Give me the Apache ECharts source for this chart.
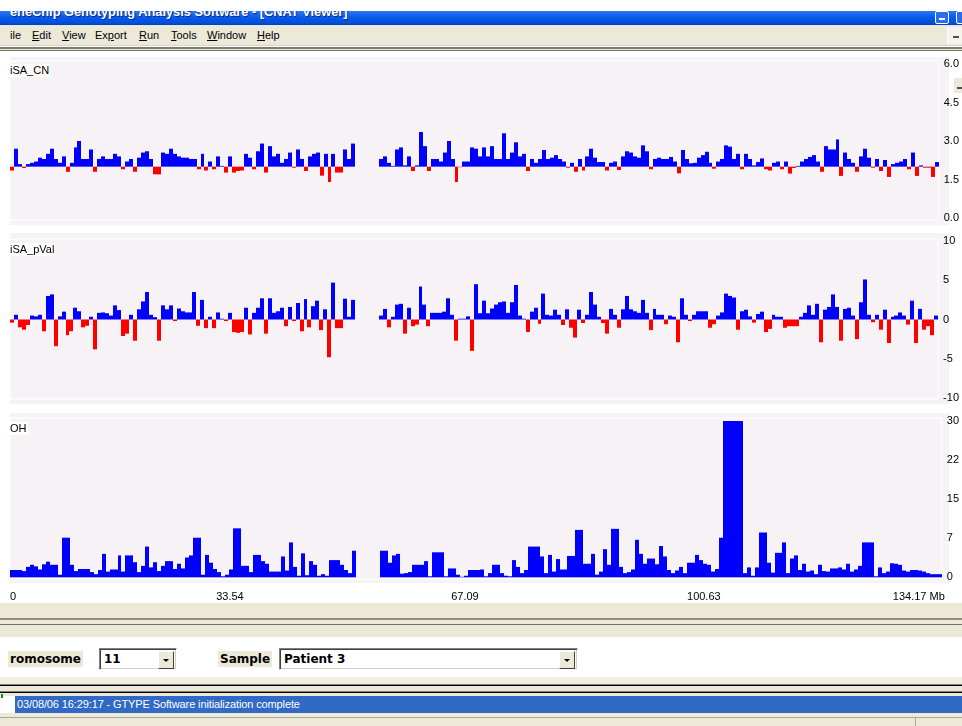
<!DOCTYPE html>
<html><head><meta charset="utf-8">
<script src="https://cdn.jsdelivr.net/npm/echarts@6/dist/echarts.min.js"></script>
<style>
html,body{margin:0;padding:0;width:962px;height:726px;overflow:hidden;background:#fff;font-family:"Liberation Sans",Arial,sans-serif;}
.a{position:absolute;}
#chart{position:absolute;left:0;top:0;width:962px;height:726px;z-index:1;}
.bg{z-index:0;}
.fg{z-index:2;}
.menu{position:absolute;top:29px;font-size:11px;line-height:12px;color:#000;z-index:2;}
.plab{position:absolute;left:10px;background:#fff;font-size:11px;line-height:13px;padding:0 1px 0 0;color:#000;z-index:2;}
.lbl{position:absolute;top:651px;background:#ECE9D8;font-family:"DejaVu Sans",sans-serif;font-weight:bold;font-size:12px;line-height:16px;padding:0 2px;color:#000;z-index:2;}
.combo{position:absolute;top:648px;height:20px;background:#fff;border:1px solid;border-color:#808080 #fff #fff #808080;box-shadow:inset 1px 1px #404040,inset -1px -1px #d4d0c8;z-index:2;}
.combo .t{position:absolute;left:4px;top:2px;font-family:"DejaVu Sans",sans-serif;font-weight:bold;font-size:12px;line-height:16px;color:#000;}
.combo .btn{position:absolute;right:2px;top:2px;width:14px;height:16px;background:#ECE9D8;border:1px solid;border-color:#fff #404040 #404040 #fff;}
.combo .tri{position:absolute;left:4px;top:7px;width:0;height:0;border-left:3px solid transparent;border-right:3px solid transparent;border-top:3px solid #000;}
</style></head><body>

<!-- window chrome -->
<div class="a fg" style="left:0;top:11px;width:962px;height:14px;background:linear-gradient(#2c78f4,#0a5ae8 45%,#0050dc 85%,#003cc0);overflow:hidden;">
  <span class="a" style="left:10px;top:-6px;font-family:'Liberation Sans',Arial,sans-serif;font-weight:bold;font-size:12.8px;line-height:13px;color:#fff;white-space:nowrap;text-shadow:1px 1px #0a2a8a;">eneChip Genotyping Analysis Software - [CNAT Viewer]</span>
  <div class="a" style="left:935px;top:0px;width:12px;height:11px;background:#2a6cf0;border:1px solid #fff;border-radius:2px;"><div class="a" style="left:3px;top:6px;width:6px;height:2px;background:#fff;"></div></div>
  <div class="a" style="left:956px;top:0px;width:12px;height:11px;background:#2a6cf0;border:1px solid #fff;border-radius:2px;"></div>
</div>
<div class="a fg" style="left:0;top:25px;width:962px;height:20px;background:#ECE9D8;"></div>
<span class="menu" style="left:10px;">ile</span>
<span class="menu" style="left:32px;"><u>E</u>dit</span>
<span class="menu" style="left:62px;"><u>V</u>iew</span>
<span class="menu" style="left:95px;">Ex<u>p</u>ort</span>
<span class="menu" style="left:139px;"><u>R</u>un</span>
<span class="menu" style="left:171px;"><u>T</u>ools</span>
<span class="menu" style="left:207px;"><u>W</u>indow</span>
<span class="menu" style="left:257px;"><u>H</u>elp</span>
<div class="a fg" style="left:947px;top:27px;width:15px;height:17px;background:#f4f3ee;border-left:1px solid #fff;"><div class="a" style="left:5px;top:9px;width:6px;height:2px;background:#505050;"></div></div>
<div class="a fg" style="left:0;top:45px;width:962px;height:1px;background:#d8d5c8;"></div>
<div class="a fg" style="left:0;top:47px;width:962px;height:2px;background:#7d7a6e;"></div>
<div class="a fg" style="left:0;top:49px;width:962px;height:1px;background:#ECE9D8;"></div>
<div class="a fg" style="left:0;top:50px;width:962px;height:1px;background:#716F64;"></div>

<!-- panel backgrounds -->
<div class="a bg" style="left:10px;top:57px;width:939px;height:168px;background:#F6F2F6;"></div>
<div class="a bg" style="left:10px;top:233px;width:939px;height:171px;background:#F6F2F6;"></div>
<div class="a bg" style="left:10px;top:413px;width:939px;height:170px;background:#F6F2F6;"></div>

<div class="plab" style="top:64px;">iSA_CN</div>
<div class="plab" style="top:243px;">iSA_pVal</div>
<div class="plab" style="top:422px;">OH</div>
<div class="a fg" style="left:953px;top:77px;width:9px;height:15px;background:#ECE9D8;border-top:1px solid #fff;border-left:1px solid #fff;"><div class="a" style="left:3px;top:9px;width:6px;height:2px;background:#505050;"></div></div>

<!-- bottom chrome -->
<div class="a fg" style="left:0;top:603px;width:962px;height:34px;background:#ECE9D8;"></div>
<div class="a fg" style="left:0;top:618px;width:962px;height:2px;background:#8f8c80;"></div>
<div class="a fg" style="left:0;top:624px;width:962px;height:1px;background:#716F64;"></div>
<div class="a fg" style="left:0;top:677px;width:962px;height:7px;background:#F1EFE2;"></div>
<div class="a fg" style="left:0;top:684px;width:962px;height:1px;background:#808080;"></div>
<div class="a fg" style="left:0;top:685px;width:962px;height:1px;background:#000;"></div>
<div class="a fg" style="left:0;top:686px;width:962px;height:10px;background:#ECE9D8;"></div>
<div class="a fg" style="left:0;top:691px;width:962px;height:1px;background:#808080;"></div>
<div class="a fg" style="left:0;top:692px;width:962px;height:1px;background:#000;"></div>
<div class="a fg" style="left:1px;top:694px;width:2px;height:4px;background:#1a8a1a;"></div>
<div class="a fg" style="left:15px;top:696px;width:947px;height:17px;background:#316AC5;"><span class="a" style="left:2px;top:0;font-size:11px;line-height:16px;letter-spacing:-0.12px;color:#fff;white-space:nowrap;">03/08/06 16:29:17 - GTYPE Software initialization complete</span></div>
<div class="a fg" style="left:0;top:713px;width:962px;height:13px;background:#ECE9D8;"></div>
<div class="a fg" style="left:0;top:717px;width:962px;height:1px;background:#ACA899;"></div>
<div class="a fg" style="left:915px;top:718px;width:1px;height:8px;background:#ACA899;"></div>

<div class="lbl" style="left:8px;">romosome</div>
<div class="combo" style="left:99px;width:76px;"><span class="t">11</span><div class="btn"><div class="tri"></div></div></div>
<div class="lbl" style="left:218px;">Sample</div>
<div class="combo" style="left:279px;width:297px;"><span class="t">Patient 3</span><div class="btn"><div class="tri"></div></div></div>

<div id="chart"></div>
<script>
// ---- data (one value per 0.573 Mb bin along chromosome 11; null = centromere gap) ----
const xTickValues = [0, 33.54, 67.09, 100.63, 134.17];
const xTickLabels = ['0', '33.54', '67.09', '100.63', '134.17 Mb'];
const cnTicks = [0, 1.5, 3, 4.5, 6];
const pvalTicks = [-10, -5, 0, 5, 10];
const lohTicks = [0, 7.5, 15, 22.5, 30];

const cnValues = [
1.85,2.7,2.1,1.95,2.1,2.15,2.2,2.35,2.3,2.5,
2.7,2.3,2.15,2.4,1.8,2.15,2.75,3.0,2.3,2.3,
2.67,1.8,2.3,2.4,2.3,2.3,2.5,2.4,1.9,2.2,
2.3,1.8,2.35,2.55,2.6,2.3,1.7,1.7,2.55,2.5,
2.7,2.5,2.4,2.35,2.35,2.3,2.3,1.9,2.5,1.85,
2.2,1.9,2.4,2.03,1.77,2.4,1.77,1.83,1.85,2.5,
2.35,1.9,2.6,2.9,1.77,2.8,2.4,2.5,2.15,2.3,
2.55,1.96,2.67,2.3,1.83,2.4,2.5,2.55,1.65,2.5,
1.4,2.5,1.77,1.77,2.67,2.3,2.9,null,null,null,
null,null,null,2.3,2.4,2.15,2.03,2.67,2.75,2.05,
2.4,1.83,2.05,3.35,2.8,1.83,2.3,2.3,2.2,2.55,
3.0,2.3,1.4,1.98,2.2,2.2,2.75,2.7,2.4,2.75,
2.4,2.8,2.3,2.3,3.3,2.3,2.55,2.95,2.4,2.5,
1.83,2.3,2.15,2.3,2.65,2.3,2.35,2.45,2.3,2.2,
1.96,2.15,1.8,2.3,1.85,2.4,2.7,2.35,2.18,2.18,
1.85,2.15,2.2,1.87,2.4,2.6,2.55,2.4,2.35,2.83,
2.6,1.9,2.3,2.35,2.3,2.3,2.38,2.2,1.74,2.65,
2.3,2.13,2.15,2.35,2.45,2.58,2.15,1.92,2.2,2.3,
2.83,2.78,2.3,2.5,1.9,2.5,2.3,2.05,2.18,2.32,
1.9,1.85,2.15,2.2,1.9,2.2,1.73,1.95,2.03,2.2,
2.3,2.38,2.45,2.2,1.8,2.8,2.67,2.67,3.06,1.64,
2.55,2.3,2.15,1.8,2.4,2.7,2.35,1.96,2.3,1.83,
2.26,1.6,2.1,2.15,2.2,2.3,1.9,2.55,1.64,2.05,
1.96,1.96,1.6,2.18
];

const pvalValues = [
-0.4,0.6,-1.0,-1.3,-0.7,0.5,0.4,0.6,-1.5,3.0,
3.2,-3.4,0.4,1.0,-2.0,-1.5,1.5,1.05,-1.0,-0.8,
0.35,-3.8,0.85,0.9,0.8,0.5,1.8,1.2,-2.1,-1.8,
0.6,-2.7,1.3,2.3,3.5,0.6,0.3,-2.7,1.8,1.3,
1.8,-0.2,1.4,1.05,0.9,0.9,3.5,-0.8,2.5,-1.1,
0.35,-1.1,0.9,0.1,-0.2,0.85,-1.6,-1.7,-1.6,1.5,
-1.9,0.85,1.5,2.7,-1.8,2.7,0.85,1.05,1.5,-0.85,
1.6,-0.2,2.1,-1.5,2.6,-1.0,1.7,2.4,-1.35,1.3,
-4.8,4.7,-1.1,-1.1,2.65,0.35,2.5,null,null,null,
null,null,null,0.5,1.35,-1.0,0.35,1.9,2.0,-1.8,
1.5,-0.85,-0.65,4.2,1.9,-0.85,0.85,0.85,0.85,1.0,
2.7,0.6,-2.7,0.1,0.1,0.4,-4.0,4.5,0.8,2.4,
0.8,1.4,1.9,2.2,2.3,0.85,2.2,4.4,0.5,0.1,
-1.6,1.0,1.5,-0.55,3.3,0.6,0.5,1.25,0.6,-0.7,
1.3,-1.05,-2.3,1.25,-0.45,0.6,3.5,1.9,0.35,-0.45,
-1.8,1.35,0.6,-1.05,1.3,3.0,1.3,1.05,0.85,2.5,
0.85,-1.35,1.35,0.6,0.6,-0.6,0.5,0.35,-2.9,2.7,
0.6,-0.2,0.6,1.05,1.05,1.05,-1.05,-0.6,0.5,0.9,
3.3,3.0,2.8,-1.3,1.05,1.25,0.4,-0.4,0.7,1.0,
-1.6,-1.2,0.6,0.35,0.35,-1.05,-0.85,-0.85,-0.85,0.35,
0.85,1.8,0.6,2.0,-2.9,1.25,1.6,3.2,1.6,-2.7,
1.35,1.5,0.5,-2.5,2.2,5.1,0.6,-0.35,0.6,-1.3,
1.25,-3.0,0.35,0.5,0.9,0.5,-0.65,2.4,-3.0,1.35,
-1.3,-0.85,-2.0,0.5
];

const lohValues = [
1.4,1.4,1.4,1.2,2.0,2.4,2.1,1.5,2.5,3.0,
2.4,2.4,0.5,7.6,7.6,2.4,1.2,1.6,1.6,1.6,
1.0,0.6,1.4,4.5,1.1,1.5,1.5,4.2,1.1,4.2,
4.2,2.9,1.0,2.2,5.9,1.9,2.9,1.2,2.2,3.1,
3.1,1.6,2.6,1.7,3.8,4.2,7.6,7.6,0.5,4.3,
2.8,1.6,1.0,0.2,0.5,1.5,9.4,9.4,2.2,2.2,
1.0,4.3,4.3,3.1,2.6,1.1,1.1,1.1,4.0,1.3,
6.7,2.0,0.3,4.6,0.4,3.1,2.4,0.3,0.6,0.3,
3.3,3.3,3.3,2.4,1.4,0.8,5.1,null,null,null,
null,null,null,5.1,5.1,2.8,4.2,4.5,0.7,0.8,
1.0,2.4,2.4,2.4,3.1,0.2,4.8,4.8,4.8,0.2,
1.7,1.7,0.5,0.1,0.3,1.4,1.4,1.4,1.5,0.2,
0.8,2.4,2.4,0.8,0.3,0.2,3.3,2.0,0.8,1.4,
5.9,5.9,5.9,4.0,0.8,4.3,1.1,3.5,1.5,1.5,
4.1,4.1,9.1,9.1,2.6,2.6,4.5,0.5,1.1,5.4,
2.4,9.3,9.3,2.0,0.8,1.0,1.5,7.2,4.5,2.6,
3.6,3.6,2.5,6.0,4.0,1.4,0.8,1.3,2.0,0.8,
2.8,2.8,4.3,3.3,2.6,2.4,1.1,1.6,7.6,30,
30,30,30,30,0.8,1.9,0.3,1.9,8.6,8.6,
2.8,0.9,4.7,4.7,6.7,0.8,3.6,4.2,1.4,2.6,
1.1,1.3,0.6,2.4,1.2,1.1,1.7,1.7,1.9,1.5,
2.6,1.1,1.5,2.2,6.7,6.7,6.7,0.2,1.9,0.8,
1.1,2.7,2.6,2.4,1.3,1.1,1.4,1.4,1.3,1.1,
0.8,0.6,0.6,0.6
];

// ---- chart ----
const CHR_LEN = 134.17;
const BIN = CHR_LEN / cnValues.length;
const BLUE = '#0000ff', RED = '#ff0000';
const toData = arr => arr.map((v, i) => [i * BIN, v]);

function makeRender(base) {
  return function (params, api) {
    const v = api.value(1);
    if (v === null || v === undefined || isNaN(v)) return null;
    const x = api.value(0);
    const a = api.coord([x, base]);
    const b = api.coord([x + BIN, v]);
    const x0 = Math.round(a[0]), x1 = Math.round(b[0]);
    return {
      type: 'rect',
      shape: { x: x0, y: Math.min(a[1], b[1]), width: x1 - x0, height: Math.abs(b[1] - a[1]) },
      style: { fill: v >= base ? BLUE : RED }
    };
  };
}

const labelFont = { fontFamily: 'Liberation Sans', fontSize: 11, color: '#000' };
function yAxis(idx, min, max, ticks, fmt) {
  return {
    type: 'value', gridIndex: idx, position: 'right', min: min, max: max,
    axisLine: { show: false }, axisTick: { show: false }, splitLine: { show: false },
    axisLabel: Object.assign({}, labelFont, {
      margin: 5, verticalAlign: 'middle', padding: [0, 0, 15, 0],
      customValues: ticks, formatter: fmt
    })
  };
}
function xAxis(idx, showLabels) {
  const ax = {
    type: 'value', gridIndex: idx, min: 0, max: CHR_LEN,
    axisLine: { show: false }, axisTick: { show: false }, splitLine: { show: false },
    axisLabel: { show: false }
  };
  if (showLabels) {
    const styles = ['z', 'a', 'b', 'c', 'm'];
    ax.axisLabel = Object.assign({}, labelFont, {
      show: true, margin: 12, customValues: xTickValues,
      formatter: v => {
        const k = xTickValues.findIndex(t => Math.abs(t - v) < 1e-6);
        return k < 0 ? '' : '{' + styles[k] + '|' + xTickLabels[k] + '}';
      },
      rich: {
        z: { padding: [0, 0, 0, 6] },
        a: { padding: [0, 26, 0, 0] },
        b: { padding: [0, 22, 0, 0] },
        c: { padding: [0, 10, 0, 0] },
        m: { padding: [0, 46, 0, 0] }
      }
    });
  }
  return ax;
}
const gridStyle = { show: true, borderColor: '#ffffff', borderWidth: 1, backgroundColor: 'transparent' };

const chart = echarts.init(document.getElementById('chart'), null, { renderer: 'canvas' });
chart.setOption({
  animation: false,
  grid: [
    Object.assign({ left: 10, top: 61, width: 936, height: 159 }, gridStyle),
    Object.assign({ left: 10, top: 239, width: 936, height: 160 }, gridStyle),
    Object.assign({ left: 10, top: 418, width: 936, height: 161 }, gridStyle)
  ],
  xAxis: [xAxis(0, false), xAxis(1, false), xAxis(2, true)],
  yAxis: [
    yAxis(0, -0.078, 6.117, cnTicks, v => v.toFixed(1)),
    yAxis(1, -10.127, 10.255, pvalTicks, v => String(v)),
    yAxis(2, -0.326, 30.576, lohTicks, v => String(Math.floor(v)))
  ],
  series: [
    { type: 'custom', xAxisIndex: 0, yAxisIndex: 0, data: toData(cnValues), encode: { x: 0, y: 1 }, renderItem: makeRender(2), silent: true },
    { type: 'custom', xAxisIndex: 1, yAxisIndex: 1, data: toData(pvalValues), encode: { x: 0, y: 1 }, renderItem: makeRender(0), silent: true },
    { type: 'custom', xAxisIndex: 2, yAxisIndex: 2, data: toData(lohValues), encode: { x: 0, y: 1 }, renderItem: makeRender(0), silent: true }
  ]
});
</script>
</body></html>
